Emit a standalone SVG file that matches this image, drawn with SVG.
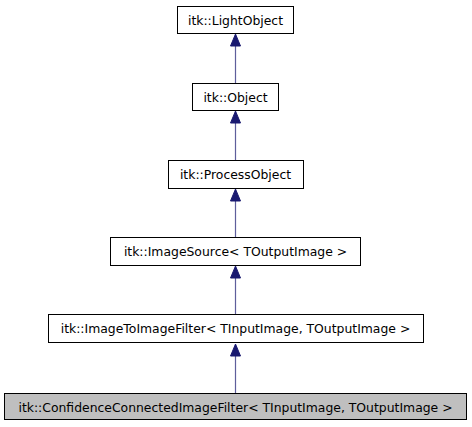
<svg xmlns="http://www.w3.org/2000/svg" width="472" height="427" viewBox="0 0 472 427">
<defs>
<style>
.box{fill:#ffffff;stroke:#000000;stroke-width:1}
.cur{fill:#bfbfbf;stroke:#000000;stroke-width:1}
.lbl{font-family:"DejaVu Sans",sans-serif;font-size:12.4px;fill:#000000;text-anchor:middle}
.edge{stroke:#191970;stroke-width:1.2;fill:none;opacity:0.7}
.head{fill:#191970;stroke:#191970;stroke-width:1}
</style>
</defs>
<rect width="472" height="427" fill="#ffffff"/>
<g id="connectors">
<line class="edge" x1="235.5" y1="83.5" x2="235.5" y2="46"/>
<polygon class="head" points="235.5,34 230.5,46 240.5,46"/>
<line class="edge" x1="235.5" y1="160.5" x2="235.5" y2="123"/>
<polygon class="head" points="235.5,111 230.5,123 240.5,123"/>
<line class="edge" x1="235.5" y1="237.5" x2="235.5" y2="201"/>
<polygon class="head" points="235.5,189 230.5,201 240.5,201"/>
<line class="edge" x1="235.5" y1="314.5" x2="235.5" y2="278"/>
<polygon class="head" points="235.5,266 230.5,278 240.5,278"/>
<line class="edge" x1="235.5" y1="393.5" x2="235.5" y2="356"/>
<polygon class="head" points="235.5,344 230.5,356 240.5,356"/>
</g>
<g id="node-lightobject">
<rect class="box" x="177.5" y="6.5" width="116" height="27"/>
<text class="lbl" x="235.5" y="24.5">itk::LightObject</text>
</g>
<g id="node-object">
<rect class="box" x="192.5" y="83.5" width="86" height="27"/>
<text class="lbl" x="235.5" y="101.5">itk::Object</text>
</g>
<g id="node-processobject">
<rect class="box" x="168.5" y="160.5" width="135" height="28"/>
<text class="lbl" x="235.5" y="179">itk::ProcessObject</text>
</g>
<g id="node-imagesource">
<rect class="box" x="110.5" y="237.5" width="250" height="28"/>
<text class="lbl" x="235.5" y="256">itk::ImageSource&lt; TOutputImage &gt;</text>
</g>
<g id="node-imagetoimagefilter">
<rect class="box" x="48.5" y="314.5" width="375" height="28"/>
<text class="lbl" x="235.5" y="333">itk::ImageToImageFilter&lt; TInputImage, TOutputImage &gt;</text>
</g>
<g id="node-confidenceconnected">
<rect class="cur" x="4.5" y="393.5" width="462" height="26"/>
<text class="lbl" x="235.5" y="412">itk::ConfidenceConnectedImageFilter&lt; TInputImage, TOutputImage &gt;</text>
</g>
</svg>
